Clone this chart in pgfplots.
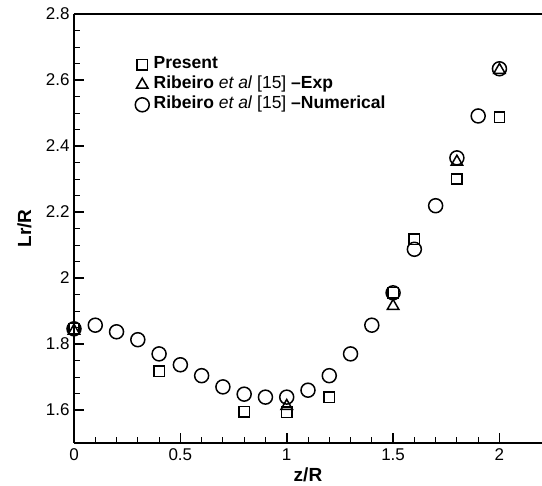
\documentclass[border=0pt]{standalone}
\usepackage{pgfplots}
\pgfplotsset{compat=1.18}
\usepackage{fontspec}
\setmainfont{Liberation Sans}

\begin{document}
\begin{tikzpicture}
\useasboundingbox (-74pt,-43pt) rectangle (468pt,443pt);
\begin{axis}[
  scale only axis, width=468pt, height=429pt,
  xmin=0, xmax=2.2, ymin=1.5, ymax=2.8,
  axis lines=left, axis line style={-, line width=1.2pt},
  clip=false,
  xtick={0,0.5,1,1.5,2}, ytick={1.6,1.8,2,2.2,2.4,2.6,2.8},
  xticklabels={0,0.5,1,1.5,2}, yticklabels={1.6,1.8,2,2.2,2.4,2.6,2.8},
  minor x tick num=4, minor y tick num=3,
  tick align=inside,
  major tick length=10pt, minor tick length=6pt,
  major tick style={line width=1.6pt, black},
  minor tick style={line width=0.9pt, black},
  tick label style={font=\fontsize{17}{19}\selectfont},
  yticklabel style={xshift=-1pt},
  xticklabel style={yshift=-2pt},
  /pgf/number format/assume math mode=true,
  xlabel={\textbf{z/R}}, ylabel={\textbf{Lr/R}},
  label style={font=\fontsize{19}{21}\selectfont},
  xlabel style={at={(axis description cs:0.5,-0.073)}, anchor=center},
  ylabel style={at={(axis description cs:-0.106,0.5)}, anchor=center},
  legend style={at={(axis description cs:0.128,0.903)}, anchor=north west,
    draw=none, fill=none, font=\fontsize{17.5}{20}\selectfont,
    row sep=2pt, inner sep=0pt,
    nodes={inner sep=1pt, text depth=4.5pt, text height=11.5pt}},
  legend cell align=left,
  legend image code/.code={\draw[#1] plot coordinates {(0.16cm,0cm)};
    \path (-0.1cm,0cm) (0.5cm,0cm);},
  every axis plot/.append style={only marks, line width=1.5pt, black},
]
\addplot[mark=square, mark size=5.2pt] coordinates {
  (0,1.846) (0.4,1.717) (0.8,1.595) (1.0,1.593) (1.2,1.639)
  (1.5,1.955) (1.6,2.118) (1.8,2.300) (2.0,2.487)};
\addlegendentry{\textbf{Present}}
\addplot[mark=triangle, mark size=6.6pt] coordinates {
  (0,1.840) (1.0,1.612) (1.5,1.915) (1.8,2.352) (2.0,2.630)};
\addlegendentry{\textbf{Ribeiro} \textit{et al} [15] \textbf{--Exp}}
\addplot[mark=o, mark size=7pt] coordinates {
  (0,1.846) (0.1,1.857) (0.2,1.837) (0.3,1.813) (0.4,1.770) (0.5,1.737)
  (0.6,1.704) (0.7,1.670) (0.8,1.648) (0.9,1.639) (1.0,1.639) (1.1,1.660)
  (1.2,1.704) (1.3,1.770) (1.4,1.857) (1.5,1.955) (1.6,2.087) (1.7,2.219)
  (1.8,2.364) (1.9,2.491) (2.0,2.634)};
\addlegendentry{\textbf{Ribeiro} \textit{et al} [15] \textbf{--Numerical}}
\draw[line width=1.2pt] (rel axis cs:0,1) -- (rel axis cs:1,1);
\end{axis}
\end{tikzpicture}
\end{document}
